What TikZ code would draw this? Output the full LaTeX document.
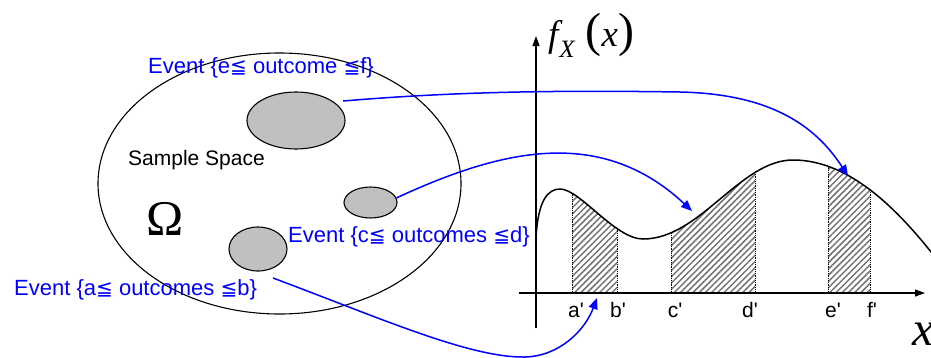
\documentclass[tikz,border=0pt]{standalone}
\usepackage{fontspec}
\setmainfont{Liberation Sans}
\newfontfamily\symfont{DejaVu Sans}
\newfontfamily\seriffont{Liberation Serif}
\usetikzlibrary{shapes.geometric,arrows.meta,patterns.meta}
\definecolor{silver}{RGB}{192,192,192}
\newcommand{\myle}{{\symfont\fontsize{20}{24}\selectfont ≦}}
\begin{document}
\begin{tikzpicture}[x=1pt,y=-1pt,
  evt/.style={text=blue, font=\fontsize{22}{26}\selectfont, inner sep=0pt, anchor=west},
  blob/.style={ellipse, draw=black, line width=1.1pt, fill=silver, inner sep=0pt},
  space/.style={ellipse, draw=black, line width=1.1pt, inner sep=0pt},
  conn/.style={blue, line width=1.5pt, -{Triangle[length=11pt,width=9pt]}},
  axisline/.style={black, line width=1.2pt, -{Triangle[length=10pt,width=7pt]}},
  ticklab/.style={font=\fontsize{21}{25}\selectfont, inner sep=0pt},
  hatch/.style={pattern={Lines[angle=45,distance=4.4pt,line width=1.5pt]}, pattern color=gray!90!black},
  dotline/.style={black, line width=0.8pt, densely dotted},
  curvepath/.style={insert path={(536,238) .. controls (538,200) and (548,189) .. (560,189)
     .. controls (580,189) and (615,239) .. (643,239)
     .. controls (700,239) and (740,160) .. (793,160)
     .. controls (850,160) and (900,210) .. (945,270)}}
]
\useasboundingbox (0,0) rectangle (931,357);

% sample space
\node[space, minimum width=363pt, minimum height=261pt] (omega) at (279.5,183.5) {};
\node[blob, minimum width=98pt, minimum height=57pt] (g1) at (296,120.5) {};
\node[blob, minimum width=53pt, minimum height=31pt] (g2) at (370.5,202.5) {};
\node[blob, minimum width=58pt, minimum height=44pt] (g3) at (258,249) {};
\node[font=\fontsize{21}{25}\selectfont, anchor=west, inner sep=0pt] (ss) at (128,160) {Sample Space};
\node[font=\seriffont\fontsize{50}{50}\selectfont, anchor=base, inner sep=0pt] (om) at (165.5,235) {Ω};

% event labels
\node[evt] (le) at (148,68) {Event \{e\myle\ outcome \myle f\}};
\node[evt] (lc) at (288,237) {Event \{c\myle\ outcomes \myle d\}};
\node[evt] (la) at (14,290) {Event \{a\myle\ outcomes \myle b\}};

% hatched regions and dotted bounds
\begin{scope}
  \clip[curvepath] -- (945,293) -- (536,293) -- cycle;
  \begin{scope}
    \clip (572,0) rectangle (617,293) (671,0) rectangle (755,293) (828,0) rectangle (870,293);
    \fill[hatch] (530,100) rectangle (931,293);
  \end{scope}
  \foreach \xx in {572,617,671,755,828,870}
    \draw[dotline] (\xx,100) -- (\xx,293);
\end{scope}

% axes
\coordinate (yb) at (536,328);
\coordinate (yt) at (536,36);
\coordinate (xl) at (519,293);
\coordinate (xr) at (925,293);
\draw[axisline] (yb) -- (yt);
\draw[axisline] (xl) -- (xr);

% density curve
\draw[black, line width=1.5pt, curvepath];

% axis labels
\node[anchor=base west, inner sep=0pt, font=\seriffont] (fx) at (548,46)
  {{\fontsize{37}{37}\selectfont\itshape f}\hspace{1pt}\raisebox{-11pt}{\fontsize{25}{25}\selectfont\itshape X}\hspace{11pt}{\fontsize{48}{48}\selectfont (}{\fontsize{37}{37}\selectfont\itshape x}{\fontsize{48}{48}\selectfont )}};
\node[anchor=base west, inner sep=0pt, font=\seriffont\fontsize{49}{49}\selectfont\itshape] (xlab) at (912,345) {x};

% tick labels
\node[ticklab] (ta) at (576,310) {a\textquotesingle};
\node[ticklab] (tb) at (618,310) {b\textquotesingle};
\node[ticklab] (tc) at (675,310) {c\textquotesingle};
\node[ticklab] (td) at (750,310) {d\textquotesingle};
\node[ticklab] (te) at (833,310) {e\textquotesingle};
\node[ticklab] (tf) at (872,310) {f\textquotesingle};

% connectors
\coordinate (s1) at (343,101);
\coordinate (m1) at (680,92);
\coordinate (tipE) at (848,176);
\coordinate (tipC) at (692,211);
\coordinate (s3) at (273,278);
\coordinate (m3) at (525,357);
\coordinate (tipA) at (597,298);
\draw[conn] (s1) .. controls (450,92) and (550,90) .. (m1) .. controls (770,94) and (815,125) .. (tipE);
\draw[conn] (g2.10) .. controls (500,150) and (600,125) .. (tipC);
\draw[conn] (s3) .. controls (380,318) and (470,358) .. (m3) .. controls (560,356) and (585,330) .. (tipA);
\end{tikzpicture}
\end{document}
